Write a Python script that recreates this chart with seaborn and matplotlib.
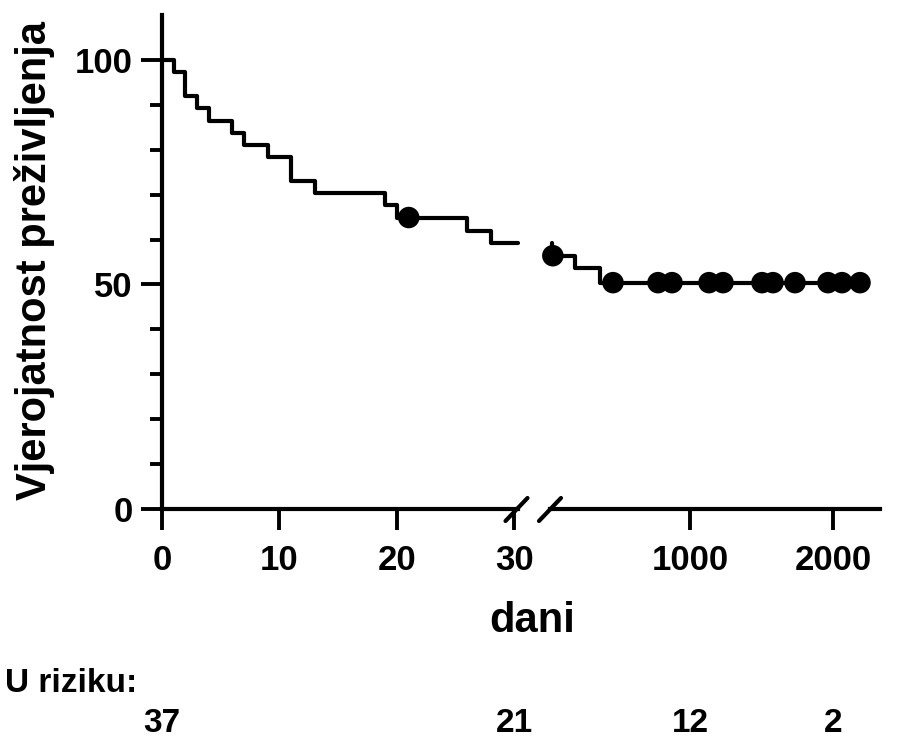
import matplotlib
matplotlib.use("Agg")
import matplotlib.pyplot as plt
import numpy as np
import pandas as pd
import seaborn as sns

# Kaplan-Meier steps, first segment (0-30 days)
left_days = [0, 1, 2, 3, 4, 6, 7, 9, 11, 13, 19, 20, 26, 28]
left_surv = [100, 97.3, 91.9, 89.2, 86.5, 83.8, 81.1, 78.4, 73.0, 70.3, 67.6, 64.9, 62.0, 59.2]
left_censor = [21]

# second segment (after the axis break)
right_days = [33, 195, 370]
right_surv = [56.4, 53.6, 50.4]
right_censor = [40, 461, 776, 874, 1133, 1231, 1504, 1581, 1735, 1966, 2064, 2190]

risk_days = [0, 30, 1000, 2000]
risk_counts = [37, 21, 12, 2]

LEFT_END = 30.3
RIGHT_LIM = (20, 2330)

sns.set_style("ticks")
plt.rcParams["font.family"] = ["Liberation Sans", "DejaVu Sans"]
plt.rcParams["font.weight"] = "bold"
plt.rcParams["text.color"] = "black"
plt.rcParams["xtick.color"] = "black"
plt.rcParams["ytick.color"] = "black"


def surv_at(days, surv, t):
    idx = np.searchsorted(days, t, side="right") - 1
    return surv[idx]


W, H = 898, 740
fig = plt.figure(figsize=(W / 100, H / 100), dpi=100)
bottom, top = 509, 15
ax1 = fig.add_axes([162 / W, (H - bottom) / H, 356 / W, (bottom - top) / H])
ax2 = fig.add_axes([550 / W, (H - bottom) / H, 330 / W, (bottom - top) / H])

lw = 3.0

# left curve
lx = left_days + [LEFT_END]
ly = left_surv + [left_surv[-1]]
sns.lineplot(x=lx, y=ly, ax=ax1, color="black", linewidth=lw, drawstyle="steps-post",
             estimator=None, sort=False, clip_on=False)
lcy = [surv_at(left_days, left_surv, t) for t in left_censor]
sns.scatterplot(x=left_censor, y=lcy, ax=ax1, color="black", s=240, edgecolor="none",
                zorder=5, clip_on=False)

# right curve
rx = [right_days[0]] + right_days + [right_censor[-1]]
ry = [left_surv[-1]] + right_surv + [right_surv[-1]]
sns.lineplot(x=rx, y=ry, ax=ax2, color="black", linewidth=lw, drawstyle="steps-post",
             estimator=None, sort=False, clip_on=False)
rcy = [surv_at(right_days, right_surv, t) for t in right_censor]
sns.scatterplot(x=right_censor, y=rcy, ax=ax2, color="black", s=240, edgecolor="none",
                zorder=5, clip_on=False)

for ax in (ax1, ax2):
    ax.set_ylim(0, 110)
    ax.set_xlabel("")
    ax.set_ylabel("")
    ax.set_facecolor("none")
    for s in ("top", "right"):
        ax.spines[s].set_visible(False)
    for s in ("left", "bottom"):
        ax.spines[s].set_linewidth(3.0)
        ax.spines[s].set_color("black")
    ax.tick_params(axis="both", which="major", length=15, width=2.8, color="black",
                   labelcolor="black", labelsize=25, pad=10)
    ax.tick_params(axis="y", which="minor", length=9, width=2.8, color="black")

ax1.set_xlim(0, LEFT_END)
ax1.set_xticks([0, 10, 20, 30])
ax1.set_yticks([0, 50, 100])
ax1.set_yticks(np.arange(0, 101, 10), minor=True)
ax1.tick_params(axis="y", pad=6)

ax2.set_xlim(*RIGHT_LIM)
ax2.set_xticks([1000, 2000])
ax2.spines["left"].set_visible(False)
ax2.tick_params(axis="y", which="both", left=False, labelleft=False)

# axis break marks
for xc in (516.5, 550):
    fig.add_artist(plt.Line2D([(xc - 11) / W, (xc + 11) / W],
                              [(H - 521) / H, (H - 498) / H],
                              color="black", lw=3.0))

fig.text(35 / W, (H - 261) / H, "Vjerojatnost preživljenja", rotation=90,
         ha="center", va="center", fontsize=30, fontweight="bold")
fig.text(532 / W, (H - 621) / H, "dani", ha="center", va="center",
         fontsize=30, fontweight="bold")
fig.text(5 / W, (H - 683) / H, "U riziku:", ha="left", va="center",
         fontsize=24, fontweight="bold")

for d, n in zip(risk_days, risk_counts):
    ax = ax1 if d <= 30 else ax2
    tr = matplotlib.transforms.blended_transform_factory(ax.transData, fig.transFigure)
    ax.text(d, (H - 723) / H, str(n), transform=tr, ha="center", va="center",
            fontsize=24, fontweight="bold", clip_on=False)

fig.savefig("out.png", dpi=100)
